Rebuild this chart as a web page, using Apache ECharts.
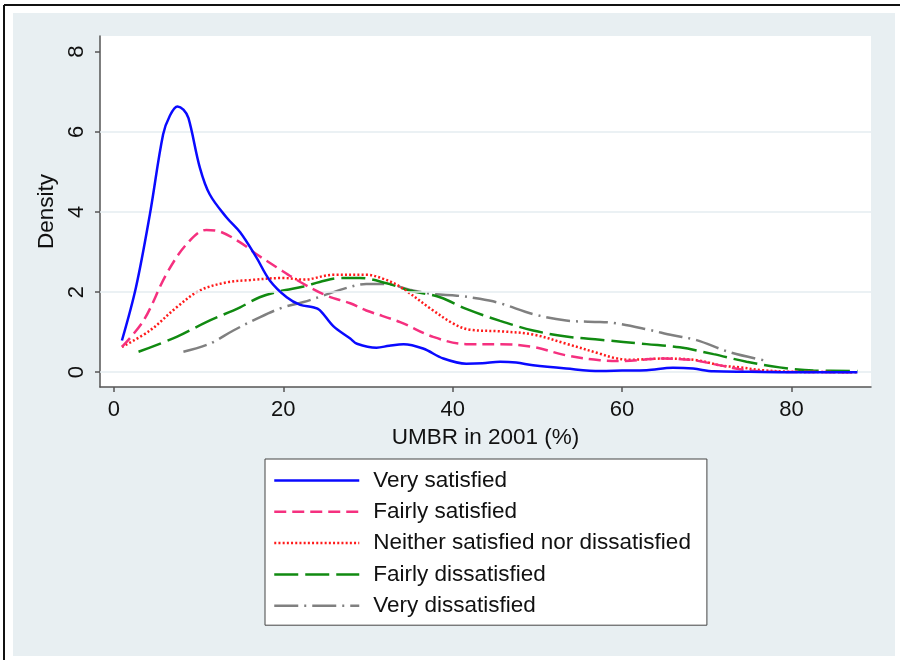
<!DOCTYPE html>
<html>
<head>
<meta charset="utf-8">
<script src="https://cdn.jsdelivr.net/npm/echarts@6/dist/echarts.min.js"></script>
<style>
html,body{margin:0;padding:0;background:#fff;}
#chart{width:900px;height:660px;}
</style>
</head>
<body>
<div id="chart"></div>
<script>
var seriesNames = ['Very satisfied','Fairly satisfied','Neither satisfied nor dissatisfied','Fairly dissatisfied','Very dissatisfied'];
var xTicks = [0,20,40,60,80];
var yTicks = [0,2,4,6,8];
var yGrid = [0,2,4,6];

var verySatisfied = [[0.94,0.79],[2.6,2.12],[4.25,3.95],[5.8,5.93],[6.6,6.4],[7.5,6.63],[8.2,6.55],[8.8,6.34],[10.15,5.10],[11.3,4.44],[13.3,3.86],[14.9,3.49],[16.8,2.87],[18.4,2.29],[20.4,1.87],[22.0,1.68],[23.5,1.62],[24.3,1.55],[25.9,1.15],[27.9,0.84],[28.7,0.71],[31.0,0.61],[32.5,0.66],[34.2,0.70],[36.5,0.59],[38.9,0.34],[41.6,0.21],[43.5,0.22],[45.6,0.26],[47.5,0.24],[49.5,0.17],[53.4,0.09],[57.4,0.03],[60,0.04],[62.9,0.05],[66.0,0.11],[68.4,0.09],[70.8,0.02],[75,0.01],[80,0.0],[87.8,0.0]];
var fairlySatisfied = [[0.94,0.63],[3.5,1.29],[6.2,2.45],[8.6,3.20],[10.9,3.55],[12.5,3.51],[14.9,3.24],[16.8,2.95],[19.2,2.62],[22.0,2.25],[25.1,1.91],[27.9,1.72],[29.8,1.54],[33.8,1.25],[37.7,0.88],[41.6,0.70],[45.6,0.70],[49.5,0.63],[53.4,0.42],[57.4,0.30],[60.1,0.28],[64.9,0.34],[68.4,0.30],[71.6,0.17],[74.7,0.05],[78,0.01],[87.8,0.0]];
var neither = [[0.94,0.63],[4.25,1.04],[7.4,1.62],[10.15,2.04],[13.3,2.24],[16.1,2.30],[20.0,2.35],[22.4,2.31],[25.9,2.43],[29.8,2.43],[31.8,2.33],[33.8,2.13],[37.7,1.54],[40.1,1.21],[42.0,1.06],[45.6,1.02],[49.5,0.94],[53.4,0.71],[57.4,0.46],[59.0,0.36],[60.9,0.31],[64.9,0.34],[68.8,0.30],[71.6,0.17],[73.9,0.12],[76.6,0.05],[80,0.01],[87.8,0.0]];
var fairlyDissatisfied = [[2.9,0.51],[7.4,0.88],[10.9,1.25],[14.9,1.62],[17.2,1.87],[19.6,2.02],[22.4,2.14],[24.3,2.25],[26.7,2.35],[29.0,2.35],[32.2,2.22],[34.9,2.04],[38.5,1.87],[41.6,1.58],[45.6,1.28],[49.5,1.04],[53.4,0.89],[57.4,0.81],[62.9,0.70],[66.8,0.62],[70.8,0.45],[74.7,0.26],[78.6,0.12],[82.6,0.04],[87.8,0.03]];
var veryDissatisfied = [[8.2,0.51],[11.3,0.71],[14.1,1.04],[17.2,1.37],[20.0,1.62],[22.4,1.75],[24.7,1.91],[27.1,2.08],[29.8,2.20],[32.2,2.20],[34.9,2.06],[37.7,1.95],[40.5,1.91],[43.2,1.83],[45.6,1.72],[49.5,1.45],[53.4,1.29],[57.4,1.25],[59.0,1.23],[62.9,1.07],[66.0,0.92],[68.8,0.80],[72.7,0.50],[76.7,0.30]];

var FONT = "'Liberation Sans', Arial, sans-serif";
var chart = echarts.init(document.getElementById('chart'));

function lineSeries(name, data, color, dash, z) {
  return {
    name: name, type: 'line', data: data, smooth: 0.35,
    symbol: 'none', showSymbol: false, z: z,
    lineStyle: { color: color, width: 2.5, type: dash, cap: 'butt' },
    itemStyle: { color: color },
    emphasis: { disabled: true }
  };
}

chart.setOption({
  animation: false,
  backgroundColor: '#ffffff',
  textStyle: { fontFamily: FONT },
  graphic: [
    { type: 'rect', shape: { x: 13, y: 13, width: 882, height: 643 }, style: { fill: '#e8eff2' }, z: -10, silent: true },
    { type: 'line', shape: { x1: 4, y1: 5, x2: 900, y2: 5 }, style: { stroke: '#111', lineWidth: 2 }, z: -5, silent: true },
    { type: 'line', shape: { x1: 4, y1: 5, x2: 4, y2: 660 }, style: { stroke: '#111', lineWidth: 2 }, z: -5, silent: true }
  ],
  grid: { left: 100, right: 29, top: 36, bottom: 273, show: true, backgroundColor: '#ffffff', borderWidth: 0, containLabel: false },
  xAxis: {
    type: 'value', min: -1.65, max: 89.4,
    name: 'UMBR in 2001 (%)', nameLocation: 'middle', nameGap: 39,
    nameTextStyle: { fontSize: 22.5, color: '#111', fontFamily: FONT },
    axisLine: { show: true, onZero: false, lineStyle: { color: '#555', width: 1.5 } },
    axisTick: { show: true, length: 5, customValues: xTicks, lineStyle: { color: '#555', width: 1.5 } },
    axisLabel: { customValues: xTicks, fontSize: 22, color: '#111', margin: 12, fontFamily: FONT },
    splitLine: { show: false }
  },
  yAxis: {
    type: 'value', min: -0.37, max: 8.39,
    name: 'Density', nameLocation: 'middle', nameGap: 41, nameRotate: 90,
    nameTextStyle: { fontSize: 22.5, color: '#111', fontFamily: FONT },
    axisLine: { show: true, onZero: false, lineStyle: { color: '#555', width: 1.5 } },
    axisTick: { show: true, length: 5, customValues: yTicks, lineStyle: { color: '#555', width: 1.5 } },
    axisLabel: { customValues: yTicks, rotate: 90, fontSize: 22, color: '#111', margin: 12, fontFamily: FONT },
    splitLine: { show: false }
  },
  legend: {
    orient: 'vertical', left: 265, top: 459,
    data: seriesNames,
    backgroundColor: '#ffffff', borderColor: '#444', borderWidth: 1, borderRadius: 0,
    padding: [10, 16, 8, 8],
    itemWidth: 85, itemHeight: 14, itemGap: 8.3,
    itemStyle: { opacity: 0, borderWidth: 0 },
    lineStyle: { width: 2.5 },
    textStyle: { fontSize: 22.5, color: '#111', fontFamily: FONT, padding: [0, 0, 0, 9] },
    selectedMode: false
  },
  series: [
    {
      name: 'grid', type: 'line', data: [], silent: true, z: 1,
      markLine: {
        silent: true, symbol: ['none', 'none'], label: { show: false },
        lineStyle: { color: '#e4edf1', width: 1.5, type: 'solid' },
        emphasis: { disabled: true },
        data: yGrid.map(function (v) { return { yAxis: v }; })
      }
    },
    lineSeries(seriesNames[4], veryDissatisfied, '#808080', [24, 6, 2, 6], 2),
    lineSeries(seriesNames[3], fairlyDissatisfied, '#118a11', [24, 7], 3),
    lineSeries(seriesNames[2], neither, '#ff1a1a', [2, 2.2], 4),
    lineSeries(seriesNames[1], fairlySatisfied, '#f5307f', [12, 6], 5),
    lineSeries(seriesNames[0], verySatisfied, '#0a0aff', 'solid', 6)
  ]
});
</script>
</body>
</html>
